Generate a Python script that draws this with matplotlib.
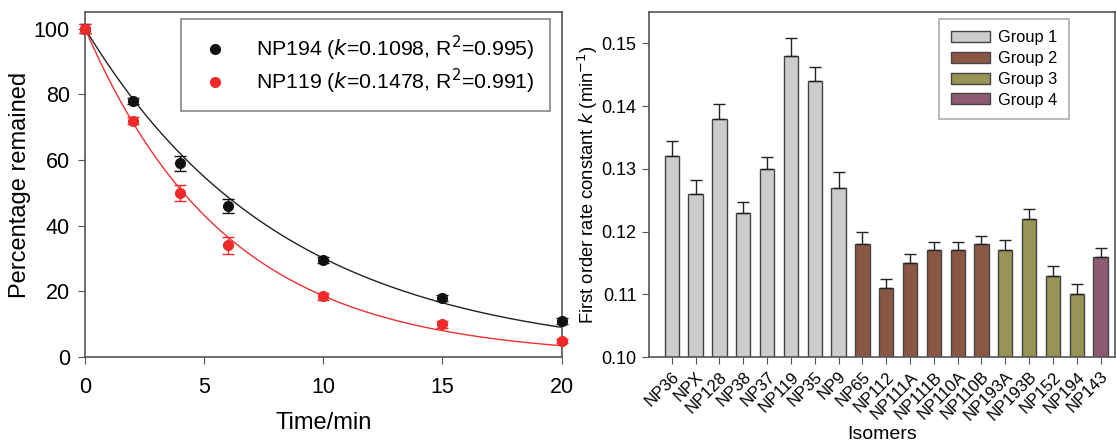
import numpy as np
import matplotlib
matplotlib.use("Agg")
from matplotlib import pyplot as plt
from matplotlib.patches import Patch

plt.rcParams['font.family'] = ['Liberation Sans', 'DejaVu Sans']

# left panel: degradation data
time_pts = [0, 2, 4, 6, 10, 15, 20]
np194_pct = [100, 78, 59, 46, 29.5, 18, 11]
np194_err = [1.5, 1.0, 2.3, 2.0, 1.0, 1.0, 1.0]
np119_pct = [100, 72, 50, 34, 18.5, 10, 5]
np119_err = [1.5, 1.0, 2.5, 2.5, 1.0, 1.0, 0.6]
# fitted curve rate constants
np194_fit_k = 0.12
np119_fit_k = 0.168

# right panel: rate constants
isomers = ["NP36", "NPX", "NP128", "NP38", "NP37", "NP119", "NP35", "NP9", "NP65",
           "NP112", "NP111A", "NP111B", "NP110A", "NP110B", "NP193A", "NP193B",
           "NP152", "NP194", "NP143"]
k_vals = [0.132, 0.126, 0.138, 0.123, 0.130, 0.148, 0.144, 0.127, 0.118,
          0.111, 0.115, 0.117, 0.117, 0.118, 0.117, 0.122,
          0.113, 0.110, 0.116]
k_err = [0.0024, 0.0022, 0.0024, 0.0017, 0.0019, 0.0029, 0.0023, 0.0025, 0.0019,
         0.0014, 0.0014, 0.0014, 0.0014, 0.0013, 0.0016, 0.0016,
         0.0015, 0.0017, 0.0014]
groups = [1, 1, 1, 1, 1, 1, 1, 1, 2, 2, 2, 2, 2, 2, 3, 3, 3, 3, 4]
group_colors = {1: "#cccccc", 2: "#8b5745", 3: "#989456", 4: "#8e5a72"}

spine_col = "#555555"

fig = plt.figure(figsize=(11.16, 4.47), dpi=100)
ax1 = fig.add_axes([0.0762, 0.201, 0.427, 0.772])
ax2 = fig.add_axes([0.5815, 0.201, 0.4175, 0.772])

# ---- left panel ----
tt = np.linspace(0, 20, 200)
ax1.plot(tt, 100 * np.exp(-np194_fit_k * tt), color="#222222", lw=1.0)
ax1.plot(tt, 100 * np.exp(-np119_fit_k * tt), color="#ee3030", lw=1.0)
ax1.errorbar(time_pts, np194_pct, yerr=np194_err, fmt="o", color="#111111", ms=7,
             capsize=4, elinewidth=1, capthick=1, clip_on=False, zorder=4,
             label="NP194 ($\\it{k}$=0.1098, R$^2$=0.995)")
ax1.errorbar(time_pts, np119_pct, yerr=np119_err, fmt="o", color="#ee2a2a", ms=7,
             capsize=4, elinewidth=1, capthick=1, clip_on=False, zorder=4,
             label="NP119 ($\\it{k}$=0.1478, R$^2$=0.991)")
ax1.set_xlim(0, 20)
ax1.set_ylim(0, 105)
ax1.set_xticks([0, 5, 10, 15, 20])
ax1.set_yticks([0, 20, 40, 60, 80, 100])
ax1.tick_params(labelsize=15.5, direction="out", length=5, color=spine_col, pad=6)
ax1.tick_params(axis="x", pad=9)
ax1.set_xlabel("Time/min", fontsize=17)
ax1.xaxis.set_label_coords(0.5, -0.16)
ax1.set_ylabel("Percentage remained", fontsize=17)
ax1.yaxis.set_label_coords(-0.113, 0.5)
h, l = ax1.get_legend_handles_labels()
h = [x[0] for x in h]
leg1 = ax1.legend(h, l, loc="upper right", fontsize=15.3, frameon=True, fancybox=False,
                  edgecolor="#666666", handletextpad=1.05, borderpad=0.7,
                  borderaxespad=0, bbox_to_anchor=(0.975, 0.98), handlelength=1.8,
                  labelspacing=0.17)
leg1.get_frame().set_linewidth(1.2)
for s in ax1.spines.values():
    s.set_color(spine_col)
    s.set_linewidth(1.2)

# ---- right panel ----
x = np.arange(len(isomers))
colors = [group_colors[g] for g in groups]
ax2.bar(x, np.array(k_vals) - 0.1, bottom=0.1, width=0.6, color=colors,
        edgecolor="#444444", linewidth=1.0, zorder=2)
ax2.errorbar(x, k_vals, yerr=[np.zeros(len(k_err)), k_err], fmt="none", ecolor="#222222",
             capsize=4, elinewidth=1, capthick=1, zorder=3)
ax2.set_xlim(-0.96, 18.6)
ax2.set_ylim(0.1, 0.155)
ax2.set_yticks([0.10, 0.11, 0.12, 0.13, 0.14, 0.15])
ax2.set_yticklabels(["0.10", "0.11", "0.12", "0.13", "0.14", "0.15"])
ax2.set_xticks(x)
ax2.set_xticklabels(isomers, rotation=45, ha="right", rotation_mode="anchor", fontsize=12)
ax2.tick_params(axis="y", labelsize=13, pad=4)
ax2.tick_params(direction="out", length=5, color=spine_col)
ax2.set_xlabel("Isomers", fontsize=14)
ax2.xaxis.set_label_coords(0.5, -0.2)
ax2.set_ylabel("First order rate constant $\\it{k}$ (min$^{-1}$)", fontsize=13.2)
ax2.yaxis.set_label_coords(-0.105, 0.5)
handles = [Patch(facecolor=group_colors[g], edgecolor="#444444", label="Group %d" % g)
           for g in [1, 2, 3, 4]]
leg2 = ax2.legend(handles=handles, loc="upper right", fontsize=11.8, fancybox=False,
                  edgecolor="#999999", bbox_to_anchor=(0.9015, 0.98), borderaxespad=0,
                  handlelength=2.4, handleheight=0.65, borderpad=0.7, labelspacing=0.35,
                  handletextpad=0.5)
leg2.get_frame().set_linewidth(1.2)
for s in ax2.spines.values():
    s.set_color(spine_col)
    s.set_linewidth(1.2)

fig.savefig("out.png", dpi=100)
